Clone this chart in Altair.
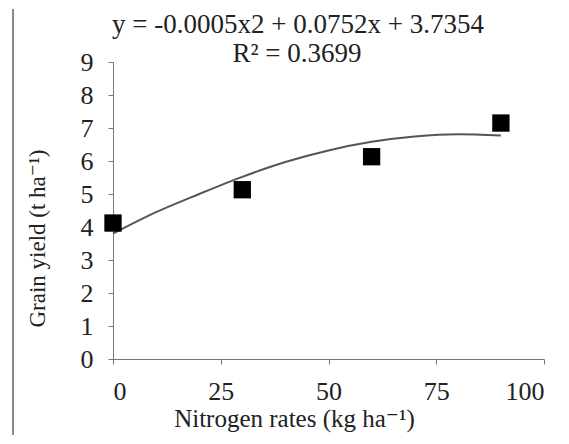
import altair as alt
import pandas as pd

# Observed means (black squares)
rates = [0, 30, 60, 90]
yields = [4.12, 5.13, 6.13, 7.15]

# Fitted curve
curve_x = [0, 10, 20, 30, 40, 50, 60, 70, 80, 90]
curve_y = [3.80, 4.45, 5.00, 5.52, 5.97, 6.32, 6.58, 6.74, 6.81, 6.77]

x_ticks = [0, 25, 50, 75, 100]
y_ticks = [0, 1, 2, 3, 4, 5, 6, 7, 8, 9]

eq_lines = ["y = -0.0005x2 + 0.0752x + 3.7354", "R² = 0.3699"]

pts = pd.DataFrame({"rate": rates, "yield": yields})
cur = pd.DataFrame({"rate": curve_x, "yield": curve_y})

FONT = "Times New Roman, Liberation Serif, DejaVu Serif, serif"
W, H = 431, 297

xs = alt.Scale(domain=[0, 100], nice=False)
ys = alt.Scale(domain=[0, 9], nice=False)

xaxis = alt.Axis(values=x_ticks, tickCount=5, title="Nitrogen rates (kg ha⁻¹)", grid=False,
                 labelFont=FONT, labelFontSize=26, labelColor="#222", labelOverlap=False,
                 titleFont=FONT, titleFontSize=25, titleFontWeight="normal",
                 titleColor="#222", titlePadding=2, titleX=181,
                 domainColor="#777", tickColor="#777", tickSize=5, labelPadding=14)
yaxis = alt.Axis(values=y_ticks, tickCount=10, title="Grain yield (t ha⁻¹)", grid=False,
                 labelFont=FONT, labelFontSize=26, labelColor="#222", labelOverlap=False,
                 titleFont=FONT, titleFontSize=23, titleFontWeight="normal",
                 titleColor="#222", titlePadding=31, titleY=176,
                 domainColor="#777", tickColor="#777", tickSize=5, labelPadding=15)

line = alt.Chart(cur).mark_line(color="#555", strokeWidth=2, interpolate="monotone").encode(
    x=alt.X("rate:Q", scale=xs, axis=xaxis),
    y=alt.Y("yield:Q", scale=ys, axis=yaxis),
)

squares = alt.Chart(pts).mark_square(color="black", size=300, opacity=1).encode(
    x=alt.X("rate:Q", scale=xs, axis=xaxis),
    y=alt.Y("yield:Q", scale=ys, axis=yaxis),
)

eq_df = pd.DataFrame({"t": [eq_lines[0]]})
r2_df = pd.DataFrame({"t": [eq_lines[1]]})
eq = alt.Chart(eq_df).mark_text(font=FONT, fontSize=27, color="#222").encode(
    text="t:N", x=alt.value(185), y=alt.value(-37))
r2 = alt.Chart(r2_df).mark_text(font=FONT, fontSize=27, color="#222").encode(
    text="t:N", x=alt.value(184), y=alt.value(-8))

border_left = alt.Chart(pd.DataFrame({"a": [0]})).mark_rule(color="#888", strokeWidth=2).encode(
    x=alt.value(-100), y=alt.value(-53), y2=alt.value(380))

chart = alt.layer(border_left, line, squares, eq, r2).properties(
    width=W, height=H,
    autosize=alt.AutoSizeParams(type="none"),
    padding={"left": 105, "top": 54, "right": 17, "bottom": 76},
).configure(background="white", view=alt.ViewConfig(stroke=None))

chart.save("out.html", embed_options={"renderer": "svg", "actions": False})
